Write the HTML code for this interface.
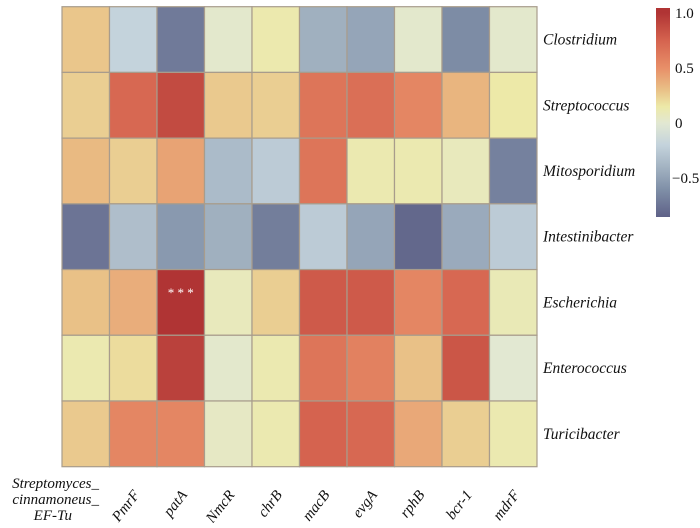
<!DOCTYPE html>
<html><head><meta charset="utf-8"><style>
html,body{margin:0;padding:0;background:#fff;}
svg text{font-family:"Liberation Serif",serif;}
</style></head><body>
<svg id="chart" width="700" height="523" xmlns="http://www.w3.org/2000/svg">
<defs>
<linearGradient id="cbar" x1="0" y1="1" x2="0" y2="0"></linearGradient>
</defs>
<g id="cells"></g>
<g id="rowlabels"></g>
<g id="collabels"></g>
<g id="colorbar"></g>
</svg>
<script>
const rows = ["Clostridium","Streptococcus","Mitosporidium","Intestinibacter","Escherichia","Enterococcus","Turicibacter"];
const cols = ["Streptomyces_EF-Tu","PmrF","patA","NmcR","chrB","macB","evgA","rphB","bcr-1","mdrF"];
const vClostridium = [0.28,-0.2,-0.72,0.02,0.13,-0.42,-0.48,0.02,-0.62,0.02];
const vStreptococcus = [0.25,0.72,0.88,0.27,0.25,0.65,0.68,0.55,0.35,0.15];
const vMitosporidium = [0.33,0.25,0.42,-0.35,-0.25,0.65,0.12,0.12,0.08,-0.68];
const vIntestinibacter = [-0.75,-0.33,-0.55,-0.42,-0.7,-0.25,-0.48,-0.82,-0.45,-0.25];
const vEscherichia = [0.3,0.38,1.0,0.08,0.25,0.8,0.8,0.55,0.72,0.1];
const vEnterococcus = [0.12,0.2,0.93,0.02,0.12,0.65,0.58,0.3,0.82,0.0];
const vTuricibacter = [0.27,0.55,0.55,0.05,0.12,0.75,0.72,0.4,0.25,0.12];
const values = [vClostridium,vStreptococcus,vMitosporidium,vIntestinibacter,vEscherichia,vEnterococcus,vTuricibacter];
const sigRow = [4]; const sigCol = [2];
const cbTicks = [1.0,0.5,0,-0.5];
const cbTickLabels = ["1.0","0.5","0","\u22120.5"];

const NS="http://www.w3.org/2000/svg";
const X0=62,X1=537,Y0=6.7,Y1=466.7;
const cw=(X1-X0)/cols.length, rh=(Y1-Y0)/rows.length;
const xAt=i=>X0+i*cw, yAt=j=>Y0+j*rh;
const stops=[[-0.85,[95,98,136]],[-0.6,[128,144,168]],[-0.4,[163,179,194]],[-0.2,[196,211,220]],[0,[226,232,210]],[0.15,[237,233,168]],[0.3,[233,193,135]],[0.5,[232,143,104]],[0.75,[213,99,79]],[1.0,[176,52,52]]];
function color(v){
  if(v<=stops[0][0]) return "rgb("+stops[0][1]+")";
  for(let k=1;k<stops.length;k++){
    if(v<=stops[k][0]){
      const a=stops[k-1],b=stops[k],t=(v-a[0])/(b[0]-a[0]);
      return "rgb("+a[1].map((c,i)=>Math.round(c+(b[1][i]-c)*t)).join(",")+")";
    }
  }
  return "rgb("+stops[stops.length-1][1]+")";
}
function mk(tag,attrs,parent){const e=document.createElementNS(NS,tag);for(const k in attrs)e.setAttribute(k,attrs[k]);parent.appendChild(e);return e;}
const gC=document.getElementById("cells");
values.forEach((row,j)=>row.forEach((v,i)=>{
  const r=mk("rect",{x:xAt(i),y:yAt(j),width:cw,height:rh,fill:color(v),stroke:"#a89c8c","stroke-width":1.2},gC);
  
  
}));
sigRow.forEach((j,k)=>{
  const t=mk("text",{x:xAt(sigCol[k])+cw/2,y:yAt(j)+rh*0.42,"text-anchor":"middle",fill:"#fff","font-size":13},gC);
  
  
  t.textContent="* * *";
});
const gR=document.getElementById("rowlabels");
rows.forEach((n,j)=>{
  const t=mk("text",{x:543,y:yAt(j)+rh/2+5,"font-size":15.5,"font-style":"italic",fill:"#111"},gR);
  
  
  t.textContent=n;
});
const gL=document.getElementById("collabels");
const first=mk("text",{"font-size":15,"font-style":"italic",fill:"#111","text-anchor":"end"},gL);


[["Streptomyces_",99,488],["cinnamoneus_",99,504],["EF-Tu",72,520]].forEach(l=>{
  const ts=mk("tspan",{x:l[1],y:l[2]},first);ts.textContent=l[0];
});
cols.slice(1).forEach((n,k)=>{
  const i=k+1, cx=xAt(i)+cw/2+7, cy=495;
  const t=mk("text",{x:cx,y:cy,"font-size":15,"font-style":"italic",fill:"#111","text-anchor":"end",transform:"rotate(-52 "+cx+" "+cy+")"},gL);
  
  
  t.textContent=n;
});
// colorbar
const CB_X=656,CB_W=14,CB_TOP=8,CB_BOT=217;
const vy=v=>123-v*110;
const grad=document.getElementById("cbar");
stops.forEach(s=>{
  const off=(CB_BOT-vy(s[0]))/(CB_BOT-CB_TOP);
  mk("stop",{offset:Math.max(0,Math.min(1,off)),"stop-color":"rgb("+s[1]+")"},grad);
});
const gB=document.getElementById("colorbar");
mk("rect",{x:CB_X,y:CB_TOP,width:CB_W,height:CB_BOT-CB_TOP,fill:"url(#cbar)"},gB);
cbTicks.forEach((v,k)=>{
  const t=mk("text",{x:v<0?672:675,y:vy(v)+5,"font-size":15,fill:"#111"},gB);
  
  
  t.textContent=cbTickLabels[k];
});
</script>
</body></html>
